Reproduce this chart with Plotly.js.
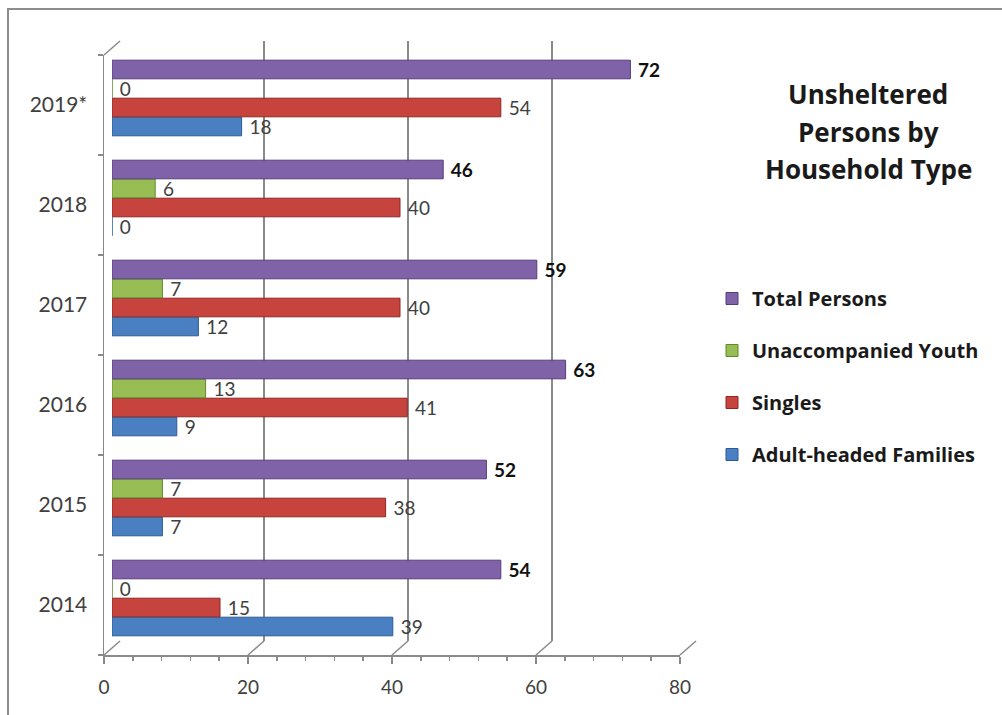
<!DOCTYPE html>
<html>
<head>
<meta charset="utf-8">
<script src="https://cdn.plot.ly/plotly-3.0.1.min.js"></script>
<style>
  html, body { margin: 0; padding: 0; background: #ffffff; }
  #chart { width: 1002px; height: 715px; }
</style>
</head>
<body>
<div id="chart"></div>
<script>
// Unsheltered persons by household type, 2014 - 2019*
const years = ['2014', '2015', '2016', '2017', '2018', '2019*'];
const adultFamilies = [39, 7, 9, 12, 0, 18];
const singles = [15, 38, 41, 40, 40, 54];
const unaccompaniedYouth = [0, 7, 13, 7, 6, 0];
const totalPersons = [54, 52, 63, 59, 46, 72];
const seriesNames = ['Adult-headed Families', 'Singles', 'Unaccompanied Youth', 'Total Persons'];
const xTickVals = [0, 20, 40, 60, 80];
const titleLines = ['Unsheltered', 'Persons by', 'Household Type'];

const W = 1002, H = 715;
const FONT = 'Lato, "Open Sans", sans-serif';
const BOLD_FONT = '"Open Sans", Lato, sans-serif';

// Pixel boxes: front plane (axes), bar plane (half depth) and back wall (gridlines)
const frontBox = { left: 104, right: 680, top: 55, bottom: 655 };
const depth = { dx: 16, dy: -14 };
function shifted(box, f) {
  return {
    left: box.left + depth.dx * f, right: box.right + depth.dx * f,
    top: box.top + depth.dy * f, bottom: box.bottom + depth.dy * f
  };
}
const barBox = shifted(frontBox, 0.5);
const backBox = shifted(frontBox, 1);
const xDom = b => [b.left / W, b.right / W];
const yDom = b => [1 - b.bottom / H, 1 - b.top / H];

const xRange = [0, 80];
const yRange = [-0.5, years.length - 0.5];

const colors = {
  'Adult-headed Families': { fill: '#4a7fc1', edge: '#2d5b94' },
  'Singles': { fill: '#c6433e', edge: '#8e2724' },
  'Unaccompanied Youth': { fill: '#98bd55', edge: '#5f8a2a' },
  'Total Persons': { fill: '#8062a8', edge: '#553d7c' }
};
const seriesValues = [adultFamilies, singles, unaccompaniedYouth, totalPersons];

const barTraces = seriesNames.map((name, i) => {
  const isTotal = name === 'Total Persons';
  return {
    type: 'bar',
    orientation: 'h',
    name: name,
    legendgroup: name,
    legendrank: seriesNames.length - i,
    x: seriesValues[i],
    y: years,
    xaxis: 'x2',
    yaxis: 'y2',
    marker: { color: colors[name].fill, line: { color: colors[name].edge, width: 1 } },
    text: seriesValues[i].map(v => ' ' + v),
    textposition: 'outside',
    constraintext: 'none',
    cliponaxis: false,
    textfont: {
      family: FONT, size: 19,
      color: isTotal ? '#111111' : '#404040',
      weight: isTotal ? 'bold' : 'normal'
    },
    hoverinfo: 'x+name'
  };
});

// empty carriers so the back wall and the front axes get their own subplots
const frameTraces = [
  { type: 'scatter', x: [], y: [], xaxis: 'x', yaxis: 'y', showlegend: false, hoverinfo: 'skip' },
  { type: 'scatter', x: [], y: [], xaxis: 'x3', yaxis: 'y3', showlegend: false, hoverinfo: 'skip' }
];

// 3D frame lines: floor edges linking each back gridline to its front tick,
// plus the top-left corner of the side wall
function pxX(box, v) { return (box.left + (box.right - box.left) * (v - xRange[0]) / (xRange[1] - xRange[0])) / W; }
const shapes = [];
xTickVals.forEach(v => {
  shapes.push({
    type: 'line', xref: 'paper', yref: 'paper',
    x0: pxX(frontBox, v), y0: 1 - frontBox.bottom / H,
    x1: pxX(backBox, v), y1: 1 - backBox.bottom / H,
    line: { color: '#8a8a8a', width: 1.5 }
  });
});
shapes.push({
  type: 'line', xref: 'paper', yref: 'paper',
  x0: frontBox.left / W, y0: 1 - frontBox.top / H,
  x1: backBox.left / W, y1: 1 - backBox.top / H,
  line: { color: '#8a8a8a', width: 1.5 }
});
// outer frame of the chart area
shapes.push({
  type: 'rect', xref: 'paper', yref: 'paper',
  x0: 8 / W, x1: 1.02, y0: -0.02, y1: 1 - 9 / H,
  line: { color: '#8c8c8c', width: 2 }, fillcolor: 'rgba(0,0,0,0)'
});

const annotations = titleLines.map((t, i) => ({
  text: t, xref: 'paper', yref: 'paper',
  x: 868 / W, y: 1 - (94 + i * 37.5) / H,
  xanchor: 'center', yanchor: 'middle', showarrow: false,
  font: { family: BOLD_FONT, size: 26, color: '#1a1a1a', weight: 'bold' }
}));

const layout = {
  width: W, height: H,
  margin: { l: 0, r: 0, t: 0, b: 0 },
  paper_bgcolor: '#ffffff',
  plot_bgcolor: 'rgba(0,0,0,0)',
  barmode: 'group',
  bargap: 0.24,
  bargroupgap: 0.02,
  showlegend: true,
  font: { family: FONT, color: '#404040' },
  // back wall with the vertical gridlines
  xaxis: {
    domain: xDom(backBox), range: xRange, anchor: 'y',
    tickvals: xTickVals, showticklabels: false, ticks: '',
    showgrid: true, gridcolor: '#8a8a8a', gridwidth: 1.5,
    zeroline: false, showline: false, fixedrange: true
  },
  yaxis: {
    domain: yDom(backBox), range: yRange, anchor: 'x',
    showticklabels: false, ticks: '', showgrid: false,
    zeroline: false, showline: false, fixedrange: true
  },
  // bars, half way into the depth
  xaxis2: {
    domain: xDom(barBox), range: xRange, anchor: 'y2',
    showticklabels: false, ticks: '', showgrid: false,
    zeroline: false, showline: false, fixedrange: true
  },
  yaxis2: {
    domain: yDom(barBox), range: yRange, anchor: 'x2',
    type: 'category', categoryorder: 'array', categoryarray: years,
    showticklabels: false, ticks: '', showgrid: false,
    zeroline: false, showline: false, fixedrange: true
  },
  // front axes carrying the ticks and labels
  xaxis3: {
    domain: xDom(frontBox), range: xRange, anchor: 'y3',
    tickvals: xTickVals, ticks: 'outside', ticklen: 7, tickwidth: 1.5, tickcolor: '#8a8a8a',
    ticklabelstandoff: 8,
    minor: { dtick: 4, ticks: 'outside', ticklen: 4, tickwidth: 1.5, tickcolor: '#8a8a8a' },
    showline: true, linecolor: '#8a8a8a', linewidth: 1.5,
    showgrid: false, zeroline: false, fixedrange: true,
    tickfont: { family: FONT, size: 19, color: '#404040' }
  },
  yaxis3: {
    domain: yDom(frontBox), range: yRange, anchor: 'x3',
    tickmode: 'array', tickvals: years.map((_, i) => i), ticktext: years,
    ticks: '', ticklabelstandoff: 11,
    minor: {
      tickvals: years.map((_, i) => i - 0.5).concat([years.length - 0.5]),
      ticks: 'outside', ticklen: 5, tickwidth: 1.5, tickcolor: '#8a8a8a'
    },
    showline: true, linecolor: '#8a8a8a', linewidth: 1.5,
    showgrid: false, zeroline: false, fixedrange: true,
    tickfont: { family: FONT, size: 21, color: '#404040' }
  },
  legend: {
    x: 712 / W, xanchor: 'left',
    y: 1 - 279 / H, yanchor: 'top',
    traceorder: 'grouped',
    tracegroupgap: 23,
    font: { family: BOLD_FONT, size: 20, color: '#1a1a1a', weight: 'bold' },
    bgcolor: 'rgba(0,0,0,0)'
  },
  shapes: shapes,
  annotations: annotations
};

Plotly.newPlot('chart', barTraces.concat(frameTraces), layout, { displayModeBar: false, staticPlot: true });
</script>
</body>
</html>
